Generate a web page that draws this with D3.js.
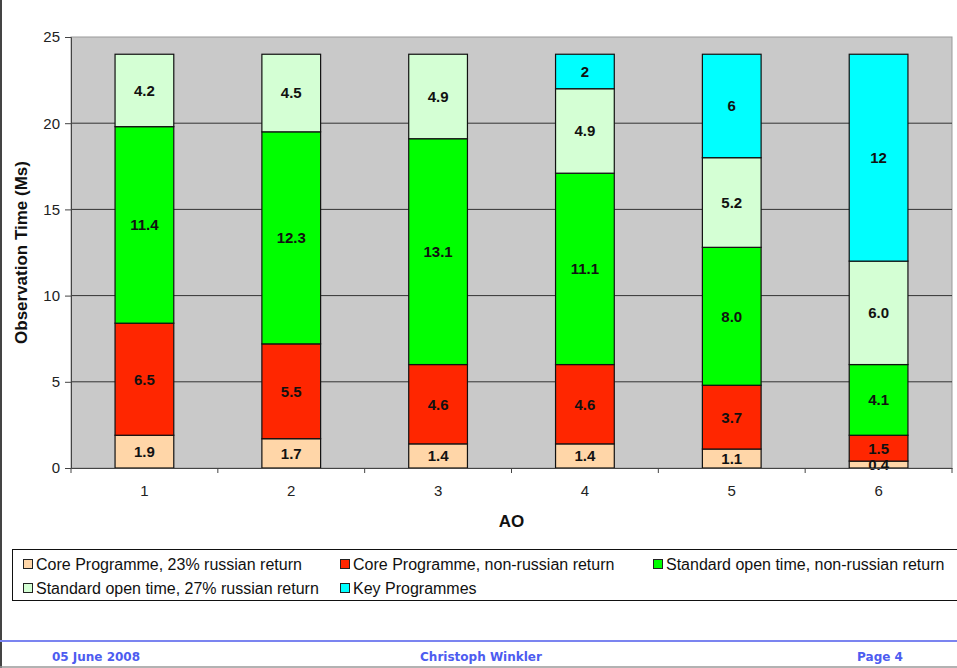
<!DOCTYPE html>
<html>
<head>
<meta charset="utf-8">
<script src="https://cdn.jsdelivr.net/npm/d3@7"></script>
<style>
  body { margin: 0; background: #fff; }
  svg { display: block; font-family: "Liberation Sans", Arial, sans-serif; }
</style>
</head>
<body>
<svg id="chart" width="957" height="668"></svg>
<script>
// chart data
var categories = ["1", "2", "3", "4", "5", "6"];
var seriesNames = [
    "Core Programme, 23% russian return",
    "Core Programme, non-russian return",
    "Standard open time, non-russian return",
    "Standard open time, 27% russian return",
    "Key Programmes"
];
var coreRussian = [1.9, 1.7, 1.4, 1.4, 1.1, 0.4];
var coreNonRussian = [6.5, 5.5, 4.6, 4.6, 3.7, 1.5];
var openNonRussian = [11.4, 12.3, 13.1, 11.1, 8.0, 4.1];
var openRussian = [4.2, 4.5, 4.9, 4.9, 5.2, 6.0];
var keyProgrammes = [0, 0, 0, 2, 6, 12];
var keyLabels = ["", "", "", "2", "6", "12"];
var yTicks = [0, 5, 10, 15, 20, 25];
var colors = ["#FFD6A8", "#FF2600", "#00FF00", "#D4FFD4", "#00FFFF"];

var svg = d3.select("#chart");
var W = 957, H = 668;
var pLeft = 71, pRight = 952, pTop = 37, pBottom = 468;

// page frame
svg.append("line").attr("x1", 1).attr("x2", 1).attr("y1", 0).attr("y2", H)
    .attr("stroke", "#444").attr("stroke-width", 2);
svg.append("line").attr("x1", 0).attr("x2", W).attr("y1", 667).attr("y2", 667)
    .attr("stroke", "#999").attr("stroke-width", 1.5);

var x = d3.scaleBand().domain(categories).range([pLeft, pRight])
    .paddingInner(0.6).paddingOuter(0.3);
var y = d3.scaleLinear().domain([0, 25]).range([pBottom, pTop]);

// plot background
svg.append("rect").attr("x", pLeft).attr("y", pTop)
    .attr("width", pRight - pLeft).attr("height", pBottom - pTop)
    .attr("fill", "#C9C9C9").attr("stroke", "#999").attr("stroke-width", 1);

// gridlines
svg.append("g").selectAll("line")
    .data(yTicks.filter(d => d > 0 && d < 25))
    .enter().append("line")
    .attr("x1", pLeft).attr("x2", pRight)
    .attr("y1", d => y(d)).attr("y2", d => y(d))
    .attr("stroke", "#333").attr("stroke-width", 1);

// stacking
var rows = categories.map((c, i) => ({
    cat: c,
    s0: coreRussian[i], s1: coreNonRussian[i], s2: openNonRussian[i],
    s3: openRussian[i], s4: keyProgrammes[i]
}));
var keys = ["s0", "s1", "s2", "s3", "s4"];
var stacked = d3.stack().keys(keys)(rows);

var labelText = function (k, i) {
    if (k === 4) return keyLabels[i];
    var v = [coreRussian, coreNonRussian, openNonRussian, openRussian][k][i];
    return v.toFixed(1);
};

var layers = svg.append("g").selectAll("g")
    .data(stacked)
    .enter().append("g")
    .attr("fill", (d, i) => colors[i]);

layers.selectAll("rect")
    .data(d => d.filter(p => p[1] - p[0] > 0))
    .enter().append("rect")
    .attr("x", d => x(d.data.cat))
    .attr("y", d => y(d[1]))
    .attr("width", x.bandwidth())
    .attr("height", d => y(d[0]) - y(d[1]))
    .attr("stroke", "#111").attr("stroke-width", 1.2);

// value labels
stacked.forEach(function (layer, k) {
    svg.append("g").selectAll("text")
        .data(layer.filter(p => p[1] - p[0] > 0))
        .enter().append("text")
        .attr("x", d => x(d.data.cat) + x.bandwidth() / 2)
        .attr("y", d => (y(d[0]) + y(d[1])) / 2)
        .attr("dy", "0.36em")
        .attr("text-anchor", "middle")
        .attr("font-size", 15).attr("font-weight", "bold").attr("fill", "#111")
        .text(d => labelText(k, categories.indexOf(d.data.cat)));
});

// y axis
var yAxis = svg.append("g").attr("transform", "translate(" + pLeft + ",0)")
    .call(d3.axisLeft(y).tickValues(yTicks).tickSize(6).tickPadding(5));
yAxis.select(".domain").attr("stroke", "#444");
yAxis.selectAll(".tick line").attr("stroke", "#444");
yAxis.selectAll("text").attr("font-size", 15).attr("fill", "#222")
    .attr("font-family", "Liberation Sans, Arial, sans-serif");

// x axis
var xAxis = svg.append("g").attr("transform", "translate(0," + pBottom + ")")
    .call(d3.axisBottom(x).tickSize(0).tickPadding(17));
xAxis.select(".domain").attr("stroke", "#444");
xAxis.selectAll("text").attr("font-size", 15).attr("fill", "#222")
    .attr("font-family", "Liberation Sans, Arial, sans-serif");
// ticks at band boundaries
var bounds = d3.range(categories.length + 1).map(i => pLeft + i * (pRight - pLeft) / categories.length);
svg.append("g").selectAll("line")
    .data(bounds)
    .enter().append("line")
    .attr("x1", d => d).attr("x2", d => d)
    .attr("y1", pBottom).attr("y2", pBottom + 5)
    .attr("stroke", "#444");

// axis titles
svg.append("text")
    .attr("transform", "translate(27," + ((pTop + pBottom) / 2) + ") rotate(-90)")
    .attr("text-anchor", "middle")
    .attr("font-size", 17).attr("font-weight", "bold").attr("fill", "#111")
    .text("Observation Time (Ms)");
svg.append("text")
    .attr("x", (pLeft + pRight) / 2).attr("y", 527)
    .attr("text-anchor", "middle")
    .attr("font-size", 17).attr("font-weight", "bold").attr("fill", "#111")
    .text("AO");

// legend
svg.append("rect").attr("x", 12.5).attr("y", 549.5)
    .attr("width", 950).attr("height", 51)
    .attr("fill", "#fff").attr("stroke", "#111").attr("stroke-width", 1);
var legendPos = [[23, 564], [340, 564], [653, 564], [23, 588], [340, 588]];
var legend = svg.append("g").selectAll("g")
    .data(seriesNames)
    .enter().append("g")
    .attr("transform", (d, i) => "translate(" + legendPos[i][0] + "," + legendPos[i][1] + ")");
legend.append("rect")
    .attr("x", 0.5).attr("y", -4.5).attr("width", 9).attr("height", 9)
    .attr("fill", (d, i) => colors[i]).attr("stroke", "#222");
legend.append("text")
    .attr("x", 13).attr("dy", "0.36em")
    .attr("font-size", 16).attr("fill", "#111")
    .text(d => d);

// footer
svg.append("line").attr("x1", 0).attr("x2", W).attr("y1", 641).attr("y2", 641)
    .attr("stroke", "#7B84F0").attr("stroke-width", 2);
var footer = [["05 June 2008", 96], ["Christoph Winkler", 481], ["Page 4", 880]];
svg.append("g").selectAll("text")
    .data(footer)
    .enter().append("text")
    .attr("x", d => d[1]).attr("y", 661)
    .attr("text-anchor", "middle")
    .attr("font-family", "DejaVu Sans, sans-serif")
    .attr("font-size", 12).attr("font-weight", "bold").attr("fill", "#4D5CF0")
    .text(d => d[0]);
</script>
</body>
</html>
